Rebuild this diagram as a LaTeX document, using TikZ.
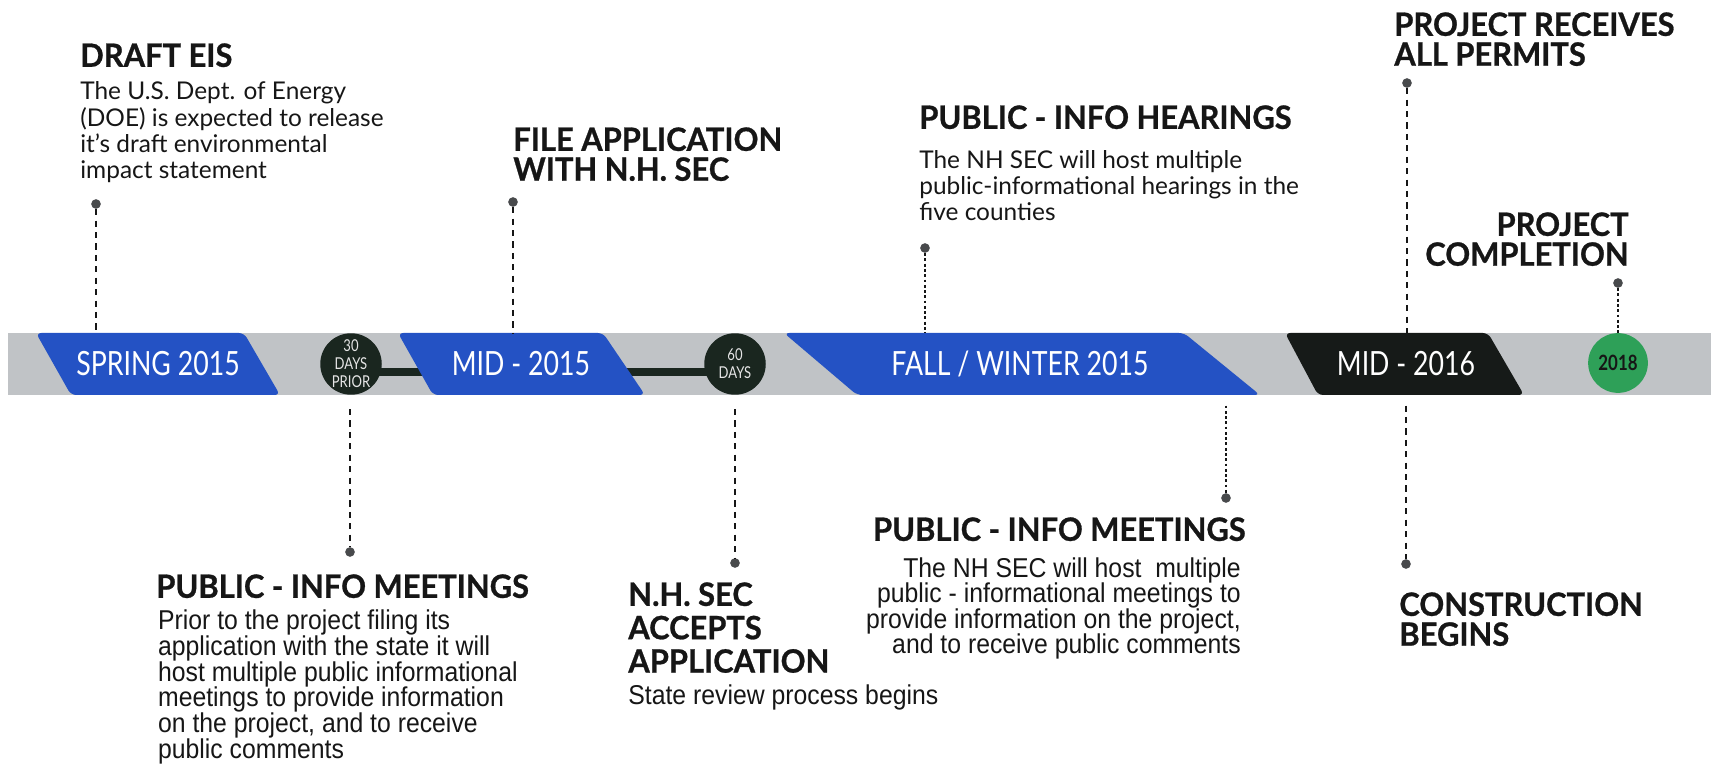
\documentclass[tikz,border=0pt]{standalone}
\usepackage{fontspec}
\setmainfont{Lato}
\newfontfamily\headfont[FakeStretch=0.96,BoldFeatures={FakeBold=0.8}]{Lato}
\newfontfamily\narrowfont[FakeStretch=0.91]{Liberation Sans}
\newfontfamily\bandfont[FakeStretch=0.8]{Lato}
\usetikzlibrary{positioning,calc,backgrounds}

\definecolor{phaseblue}{RGB}{36,82,196}
\definecolor{bandgray}{RGB}{192,195,198}
\definecolor{circdark}{RGB}{26,38,31}
\definecolor{phaseblack}{RGB}{22,26,24}
\definecolor{donegreen}{RGB}{46,160,88}
\definecolor{inkdark}{RGB}{22,22,22}
\definecolor{dotgray}{RGB}{72,74,76}

\begin{document}
\begin{tikzpicture}[x=0.02cm,y=-0.02cm,>=latex,
    title/.style={font=\headfont\bfseries\fontsize{18.3}{17}\selectfont,align=left,inner sep=0,text=inkdark},
    topbody/.style={font=\fontsize{13.9}{15}\selectfont,align=left,inner sep=0,text=inkdark},
    lowbody/.style={font=\narrowfont\fontsize{15.5}{14.6}\selectfont,align=left,inner sep=0,text=inkdark},
    phase/.style={rounded corners=3pt},
    phasetext/.style={font=\bandfont\fontsize{19}{20}\selectfont,text=white},
    daycirc/.style={circle,fill=circdark,minimum size=35pt,inner sep=0,align=center,
        text=white!80!gray,font=\bandfont\fontsize{9.3}{10.2}\selectfont},
    pin/.style={circle,fill=dotgray,minimum size=5.5pt,inner sep=0},
    dashline/.style={draw=inkdark,line width=1.1pt,dash pattern=on 3.5pt off 3pt},
    dotline/.style={draw=inkdark,line width=0.8pt,dash pattern=on 1.6pt off 1.4pt},
    bar/.style={draw=circdark,line width=5pt}]
    \useasboundingbox (0,0) rectangle (1711,766);

    % timeline band
    \coordinate (bandtop) at (0,333);
    \coordinate (bandbot) at (0,395);
    \coordinate (midaleft) at (425,372);
    \coordinate (midaright) at (615,372);

    \fill[phaseblue,phase] (36,333) -- (244,333) -- (280,395) -- (71,395) -- cycle;
    \fill[phaseblue,phase] (398,333) -- (603,333) -- (645,395) -- (433,395) -- cycle;
    \fill[phaseblue,phase] (784,333) -- (1184,333) -- (1260,395) -- (857,395) -- cycle;
    \fill[phaseblack,phase] (1285,333) -- (1488,333) -- (1524,395) -- (1318,395) -- cycle;

    \node[phasetext] at (158,364) (spring) {SPRING 2015};
    \node[phasetext] at (521,364) (mida) {MID - 2015};
    \node[phasetext] at (1020,364) (fall) {FALL / WINTER 2015};
    \node[phasetext] at (1406,364) (midb) {MID - 2016};

    \node[daycirc] at (351,364) (d30) {30\\DAYS\\PRIOR};
    \node[daycirc] at (735,364) (d60) {60\\DAYS};
    \node[circle,fill=donegreen,minimum size=34pt,inner sep=0,text=inkdark,
        font=\bandfont\bfseries\fontsize{12}{12}\selectfont] at (1618,363) (y2018) {2018};

    \begin{scope}[on background layer]
        \fill[bandgray] (8,333) rectangle (1711,395);
        \draw[bar] (d30.center |- midaleft) -- (midaleft);
        \draw[bar] (midaright) -- (d60.center |- midaright);
    \end{scope}

    % pins
    \node[pin] at (96,204) (eisdot) {};
    \node[pin] at (513,202) (filedot) {};
    \node[pin] at (350,552) (meetdot) {};
    \node[pin] at (735,563) (acceptdot) {};
    \node[pin] at (925,248) (heardot) {};
    \node[pin] at (1226,498) (meetbdot) {};
    \node[pin] at (1407,83) (permitdot) {};
    \node[pin] at (1406,564) (builddot) {};
    \node[pin] at (1618,283) (donedot) {};

    \draw[dashline] (eisdot) -- (eisdot |- bandtop);
    \draw[dashline] (filedot) -- (filedot |- bandtop);
    \draw[dotline] (heardot) -- (heardot |- bandtop);
    \draw[dashline] (permitdot) -- (permitdot |- bandtop);
    \draw[dotline] (donedot) -- (y2018);
    \draw[dashline,shorten <=8pt] (meetdot |- bandbot) -- (meetdot);
    \draw[dashline,shorten <=8pt] (acceptdot |- bandbot) -- (acceptdot);
    \draw[dotline,shorten <=6pt] (meetbdot |- bandbot) -- (meetbdot);
    \draw[dashline,shorten <=6pt] (builddot |- bandbot) -- (builddot);

    % milestones
    \node[title,anchor=north west] at (80,43) (eis) {DRAFT EIS};
    \node[topbody,below right=8pt and 0pt of eis.south west] (eistext)
        {The U.S. Dept. of Energy\\(DOE) is expected to release\\it’s draft environmental\\impact statement};

    \node[title,anchor=north west] at (513,127) (file) {FILE APPLICATION\\WITH N.H. SEC};

    \node[title,anchor=north west] at (156,574) (meet) {PUBLIC - INFO MEETINGS};
    \node[lowbody,below right=6.5pt and 1pt of meet.south west] (meettext)
        {Prior to the project filing its\\application with the state it will\\host multiple public informational\\meetings to provide information\\on the project, and to receive\\public comments};

    \node[title,anchor=north west,font=\headfont\bfseries\fontsize{18.3}{19}\selectfont] at (628,582) (accept)
        {N.H. SEC\\ACCEPTS\\APPLICATION};
    \node[lowbody,below right=6.5pt and 0pt of accept.south west] (accepttext) {State review process begins};

    \node[title,anchor=north west] at (919,105) (hear) {PUBLIC - INFO HEARINGS};
    \node[topbody,below right=11.5pt and 0pt of hear.south west] (heartext)
        {The NH SEC will host multiple\\public-informational hearings in the\\five counties};

    \node[title,anchor=north east,align=right] at (1246,517) (meetb) {PUBLIC - INFO MEETINGS};
    \node[lowbody,align=right,below left=8.8pt and 2.8pt of meetb.south east] (meetbtext)
        {The NH SEC will host\ \ multiple\\public - informational meetings to\\provide information on the project,\\and to receive public comments};

    \node[title,anchor=north west] at (1394,12) (permit) {PROJECT RECEIVES\\ALL PERMITS};
    \node[title,anchor=north east,align=right] at (1629,212) (done) {PROJECT\\COMPLETION};
    \node[title,anchor=north west] at (1399,592) (build) {CONSTRUCTION\\BEGINS};
\end{tikzpicture}
\end{document}
